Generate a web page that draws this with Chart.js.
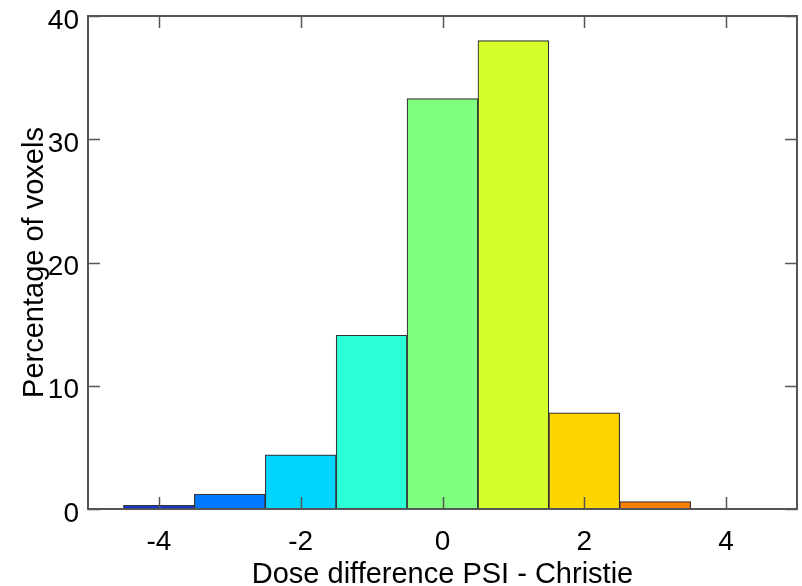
<!DOCTYPE html>
<html>
<head>
<meta charset="utf-8">
<script src="https://cdn.jsdelivr.net/npm/chart.js@4.4.0/dist/chart.umd.min.js"></script>
<style>
  html, body { margin: 0; padding: 0; background: #fff; }
  #wrap { width: 802px; height: 586px; }
</style>
</head>
<body>
<div id="wrap"><canvas id="hist" width="802" height="586"></canvas></div>
<script>
// histogram bins (dose difference, unit bins) and share of voxels in each
const binCenters = [-4, -3, -2, -1, 0, 1, 2, 3, 4];
const percentVoxels = [0.3, 1.2, 4.4, 14.1, 33.3, 38.0, 7.8, 0.6, 0];
const binColors = ['#0a30e0', '#0078ff', '#00d4ff', '#2affd5', '#80ff80', '#d5ff2a', '#ffd500', '#ff7f00', '#ff2a00'];

const xTickValues = [-4, -2, 0, 2, 4];
const yTickValues = [0, 10, 20, 30, 40];

const xTitle = 'Dose difference PSI - Christie';
const yTitle = 'Percentage of voxels';

const FONT = "'Liberation Sans', Arial, Helvetica, sans-serif";
const AXIS_COLOR = '#555';

// box around the plot with inward ticks on all four sides
const boxPlugin = {
    id: 'boxAxes',
    afterDatasetsDraw(chart) {
        const { ctx, chartArea: a, scales } = chart;
        const tick = 12;
        ctx.save();
        ctx.strokeStyle = AXIS_COLOR;
        ctx.lineWidth = 2;
        ctx.strokeRect(a.left, a.top, a.right - a.left, a.bottom - a.top);
        ctx.beginPath();
        xTickValues.forEach(v => {
            const px = Math.round(scales.x.getPixelForValue(v)) + 0.5;
            ctx.moveTo(px, a.bottom); ctx.lineTo(px, a.bottom - tick);
            ctx.moveTo(px, a.top); ctx.lineTo(px, a.top + tick);
        });
        yTickValues.forEach(v => {
            const py = Math.round(scales.y.getPixelForValue(v)) + 0.5;
            ctx.moveTo(a.left, py); ctx.lineTo(a.left + tick, py);
            ctx.moveTo(a.right, py); ctx.lineTo(a.right - tick, py);
        });
        ctx.lineWidth = 1.5;
        ctx.stroke();
        ctx.restore();
    },
    afterDraw(chart) {
        const { ctx, chartArea: a } = chart;
        ctx.save();
        ctx.fillStyle = '#000';
        ctx.font = '29px ' + FONT;
        ctx.textAlign = 'center';
        ctx.textBaseline = 'alphabetic';
        ctx.fillText(xTitle, (a.left + a.right) / 2, 583);
        ctx.translate(43, (a.top + a.bottom) / 2);
        ctx.rotate(-Math.PI / 2);
        ctx.fillText(yTitle, 0, 0);
        ctx.restore();
    }
};

const ctx = document.getElementById('hist').getContext('2d');

new Chart(ctx, {
    type: 'bar',
    data: {
        datasets: [{
            data: binCenters.map((b, i) => ({ x: b, y: percentVoxels[i] })),
            backgroundColor: binColors,
            borderColor: '#333',
            borderWidth: 1.2,
            borderSkipped: false,
            barPercentage: 1.0,
            categoryPercentage: 1.0
        }]
    },
    options: {
        responsive: false,
        animation: false,
        events: [],
        layout: { padding: { top: 16, right: 5, left: 0, bottom: 0 } },
        plugins: {
            legend: { display: false },
            tooltip: { enabled: false }
        },
        scales: {
            x: {
                type: 'linear',
                offset: false,
                min: -5,
                max: 5,
                afterBuildTicks: axis => { axis.ticks = xTickValues.map(v => ({ value: v })); },
                afterFit: axis => {
                    axis.height = 77;
                    axis.paddingLeft = 0;
                    axis.paddingRight = 0;
                },
                grid: { display: false, drawTicks: false },
                border: { display: false },
                ticks: {
                    padding: 16,
                    color: '#000',
                    maxRotation: 0,
                    font: { family: FONT, size: 28 }
                }
            },
            y: {
                min: 0,
                max: 40,
                afterBuildTicks: axis => { axis.ticks = yTickValues.map(v => ({ value: v })); },
                afterFit: axis => {
                    axis.width = 88;
                    axis.paddingTop = 0;
                    axis.paddingBottom = 0;
                },
                grid: { display: false, drawTicks: false },
                border: { display: false },
                ticks: {
                    padding: 9,
                    labelOffset: 5,
                    color: '#000',
                    font: { family: FONT, size: 28 }
                }
            }
        }
    },
    plugins: [boxPlugin]
});
</script>
</body>
</html>
